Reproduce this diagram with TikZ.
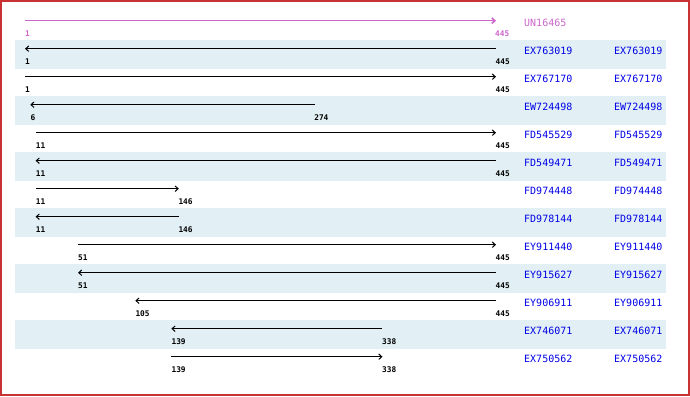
\documentclass[tikz,border=0pt]{standalone}
\usepackage{fontspec}
\setmonofont{DejaVu Sans Mono}
\usetikzlibrary{arrows.meta}
\definecolor{hitband}{RGB}{226,240,245}
\definecolor{querycol}{RGB}{204,102,204}
\definecolor{namecol}{RGB}{0,0,230}
\definecolor{framecol}{RGB}{200,50,50}
\tikzset{
  hit/.style={line width=1pt},
  fwd/.style={-{Straight Barb[length=3pt,width=5.5pt]}},
  rev/.style={{Straight Barb[length=3pt,width=5.5pt]}-},
  numlabel/.style={anchor=base west, inner sep=0pt, font=\fontsize{7.8}{8}\ttfamily\bfseries},
  namelabel/.style={anchor=base west, inner sep=0pt, text=namecol, font=\fontsize{10}{11}\ttfamily}
}
\begin{document}
\begin{tikzpicture}[x=1pt,y=-1pt]
\useasboundingbox (0,0) rectangle (690,396);
% shaded rows
\foreach \i in {1,3,5,7,9,11}
  \fill[hitband] (15,{12+28*\i}) rectangle (666,{40.7+28*\i});
% query
\coordinate (s0) at (25,20.7);
\coordinate (e0) at (496,20.7);
\draw[querycol,line width=1.6pt,fwd] (s0) -- (e0);
\node[numlabel,text=querycol] (a0) at (25,36.3) {1};
\node[numlabel,text=querycol] (b0) at (495,36.3) {445};
\node[namelabel,text=querycol] (n0) at (524,26.7) {UN16465};
% hits
\foreach \i/\name/\a/\b/\dir in {1/EX763019/1/445/rev, 2/EX767170/1/445/fwd,
    3/EW724498/6/274/rev, 4/FD545529/11/445/fwd, 5/FD549471/11/445/rev,
    6/FD974448/11/146/fwd, 7/FD978144/11/146/rev, 8/EY911440/51/445/fwd,
    9/EY915627/51/445/rev, 10/EY906911/105/445/rev, 11/EX746071/139/338/rev,
    12/EX750562/139/338/fwd} {
  \pgfmathsetmacro\xa{25+(\a-1)*1.06081}
  \pgfmathsetmacro\xb{25+(\b-1)*1.06081}
  \pgfmathsetmacro\yy{20.7+28*\i}
  \coordinate (s\i) at (\xa,\yy);
  \coordinate (e\i) at (\xb,\yy);
  \draw[hit,\dir] (s\i) -- (e\i);
  \node[numlabel] (a\i) at (\xa,\yy+15.8) {\a};
  \node[numlabel] (b\i) at (\xb-0.5,\yy+15.8) {\b};
  \node[namelabel] (n\i) at (524,\yy+6) {\name};
  \node[namelabel] (m\i) at (614,\yy+6) {\name};
}
\draw[framecol,line width=1.8pt] (0.9,0.9) rectangle (689.1,395.1);
\end{tikzpicture}
\end{document}
